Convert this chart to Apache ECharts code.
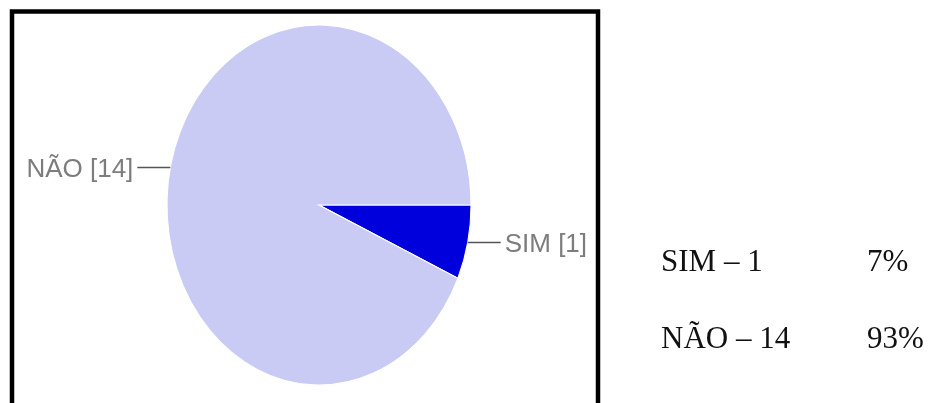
<!DOCTYPE html>
<html>
<head>
<meta charset="utf-8">
<script src="https://cdn.jsdelivr.net/npm/echarts@6/dist/echarts.min.js"></script>
<style>
  html, body { margin: 0; padding: 0; background: #fff; }
  #chart { width: 928px; height: 403px; }
</style>
</head>
<body>
<div id="chart"></div>
<script>
// data
const categories = ['SIM', 'NÃO'];
const values = [1, 14];
const sliceColors = ['#0000dc', '#c9cbf5'];

const total = values.reduce((a, b) => a + b, 0);
const percents = values.map(v => Math.round(v / total * 100));

// pie geometry (squashed ellipse like the original)
const cx = 319, cy = 205, rx = 152, ry = 180;

const chart = echarts.init(document.getElementById('chart'), null, { renderer: 'canvas' });

const renderSlice = (params, api) => {
  const i = params.dataIndex;
  const before = values.slice(0, i).reduce((a, b) => a + b, 0);
  const start = before / total * Math.PI * 2;
  const end = (before + api.value(0)) / total * Math.PI * 2;
  const mid = (start + end) / 2;
  const ex = cx + rx * Math.cos(mid);
  const ey = cy + ry * Math.sin(mid);
  const right = Math.cos(mid) >= 0;
  const lx = ex + (right ? 33 : -33);
  return {
    type: 'group',
    children: [
      {
        type: 'sector',
        x: cx, y: cy, scaleX: rx / ry,
        shape: { cx: 0, cy: 0, r0: 0, r: ry, startAngle: start, endAngle: end, clockwise: true },
        style: { fill: sliceColors[i], stroke: '#fff', lineWidth: 1.2 }
      },
      {
        type: 'line',
        shape: { x1: ex, y1: ey, x2: lx, y2: ey },
        style: { stroke: '#555', lineWidth: 1.5 }
      },
      {
        type: 'text',
        x: lx + (right ? 4 : -4), y: ey + 2,
        style: {
          text: categories[i] + ' [' + api.value(0) + ']',
          fill: '#7d7d7d',
          fontSize: 26,
          fontFamily: '"Liberation Sans", Arial, sans-serif',
          align: right ? 'left' : 'right',
          verticalAlign: 'middle'
        }
      }
    ]
  };
};

// summary table on the right
const rowY = [263, 340];
const tableTexts = [];
categories.forEach((c, i) => {
  tableTexts.push({
    type: 'text', left: 661, top: rowY[i] - 16,
    style: { text: c + ' – ' + values[i], fill: '#111', fontSize: 31, fontFamily: '"Liberation Serif", serif' }
  });
  tableTexts.push({
    type: 'text', left: 867, top: rowY[i] - 16,
    style: { text: percents[i] + '%', fill: '#111', fontSize: 31, fontFamily: '"Liberation Serif", serif' }
  });
});

const option = {
  backgroundColor: '#fff',
  animation: false,
  graphic: [
    {
      type: 'rect', z: 10,
      shape: { x: 12, y: 11.5, width: 586, height: 500 },
      style: { fill: null, stroke: '#000', lineWidth: 4.5 }
    }
  ].concat(tableTexts),
  series: [{
    type: 'custom',
    coordinateSystem: 'none',
    data: values.map(v => [v]),
    renderItem: renderSlice
  }]
};

chart.setOption(option);
</script>
</body>
</html>
